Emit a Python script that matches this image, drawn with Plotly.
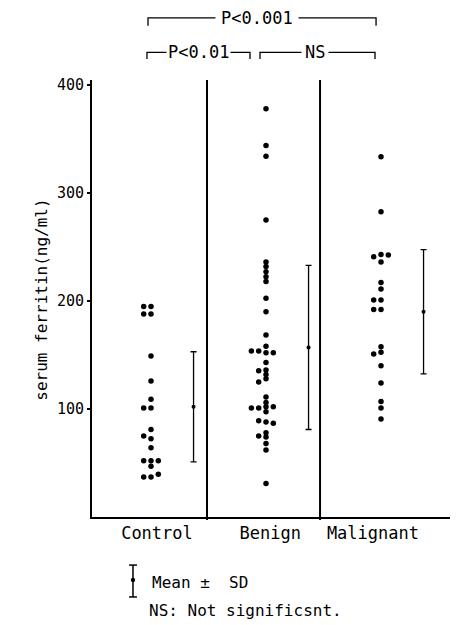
import plotly.graph_objects as go

# ---- data ----
groups = ["Control", "Benign", "Malignant"]
control = [195, 195, 188, 188, 149, 126, 109, 101, 101, 81, 72.5, 75, 64,
           52, 52, 52, 47, 37, 37, 39.5]
benign = [378, 344, 334, 275, 236, 232, 227, 222.5, 218, 202.5, 190, 168.5, 158,
          152, 153.7, 152, 153.7, 143, 136, 135.5, 132, 128, 125, 111, 106,
          102, 101, 102, 101, 97.5, 88, 89, 86.7, 78, 74, 75, 68, 62, 31]
malignant = [333.6, 282.7, 243, 241, 242.6, 236, 217, 211, 201, 201, 192, 192,
             157.7, 152.5, 151, 140, 124, 107, 101, 90.7]
means = [102, 157, 190]
sds = [51, 76, 57.5]
yticks = [100, 200, 300, 400]
comparisons = [("P<0.001", 0, 2, "upper"), ("P<0.01", 0, 1, "lower"), ("NS", 1, 2, "lower")]

FONT = "DejaVu Sans Mono"
COL_STEP = 0.0635           # horizontal spacing of stacked dots (x units)
PX_PER_UNIT_Y = 1.08        # px per ng/ml, used for collision in beeswarm
COLLIDE_PX = 4.0
TRY = [0, -1, 1, -2, 2, -3, 3]


def swarm(values):
    placed = []
    xs = []
    for v in values:
        for c in TRY:
            ok = all(not (pc == c and abs(pv - v) * PX_PER_UNIT_Y < COLLIDE_PX)
                     for pv, pc in placed)
            if ok:
                placed.append((v, c))
                xs.append(c * COL_STEP)
                break
    return xs


fig = go.Figure()
for gi, vals in enumerate([control, benign, malignant]):
    offs = swarm(vals)
    fig.add_trace(go.Scatter(
        x=[gi + o for o in offs], y=vals, mode="markers",
        marker=dict(size=5.5, color="black"), showlegend=False, hoverinfo="y"))

fig.add_trace(go.Scatter(
    x=[i + 0.37 for i in range(len(groups))], y=means, mode="markers",
    marker=dict(size=4, color="black"),
    error_y=dict(type="data", array=sds, symmetric=True, color="black",
                 thickness=1.3, width=3),
    showlegend=False))

shapes = []
# divider lines between groups
for d in [0.487, 1.47]:
    shapes.append(dict(type="line", xref="x", yref="paper", x0=d, x1=d, y0=-0.007, y1=1,
                       line=dict(color="black", width=2)))

# significance brackets
levels = {"upper": (1.142, 1.124), "lower": (1.063, 1.048)}
ends = {(0, 2): (-0.026, 1.957), (0, 1): (-0.035, 0.861), (1, 2): (0.948, 1.948)}
annotations = []
for label, a, b, lvl in comparisons:
    ytop, ybot = levels[lvl]
    x0, x1 = ends[(a, b)]
    shapes.append(dict(type="path", xref="x", yref="paper",
                       path=f"M {x0},{ybot} L {x0},{ytop} L {x1},{ytop} L {x1},{ybot}",
                       line=dict(color="black", width=1.3)))
    cx = {"P<0.001": 0.922, "P<0.01": 0.409, "NS": 1.422}[label]
    pad = {"P<0.001": 5, "P<0.01": 1, "NS": 3}[label]
    annotations.append(dict(x=cx, y=ytop, xref="x", yref="paper", text=label,
                            showarrow=False, bgcolor="white", borderpad=pad,
                            xanchor="center", yanchor="middle",
                            font=dict(family=FONT, size=17, color="black")))

# legend glyph (mean ± SD)
lx, ltop, lbot, lmid, cap = 0.1145, -0.110, -0.183, -0.144, 0.011
shapes += [
    dict(type="line", xref="paper", yref="paper", x0=lx, x1=lx, y0=lbot, y1=ltop,
         line=dict(color="black", width=1.5)),
    dict(type="line", xref="paper", yref="paper", x0=lx - cap, x1=lx + cap, y0=ltop, y1=ltop,
         line=dict(color="black", width=1.5)),
    dict(type="line", xref="paper", yref="paper", x0=lx - cap, x1=lx + cap, y0=lbot, y1=lbot,
         line=dict(color="black", width=1.5)),
    dict(type="circle", xref="paper", yref="paper", x0=lx - 0.006, x1=lx + 0.006,
         y0=lmid - 0.005, y1=lmid + 0.005, fillcolor="black", line=dict(color="black", width=0)),
]
annotations += [
    dict(x=0.162, y=-0.149, xref="paper", yref="paper", text="Mean ±  SD",
         showarrow=False, xanchor="left", yanchor="middle",
         font=dict(family=FONT, size=16, color="black")),
    dict(x=0.154, y=-0.213, xref="paper", yref="paper", text="NS: Not significsnt.",
         showarrow=False, xanchor="left", yanchor="middle",
         font=dict(family=FONT, size=16, color="black")),
    # y-axis title
    dict(x=-0.140, y=0.497, xref="paper", yref="paper", text="serum ferritin(ng/ml)",
         textangle=-90, showarrow=False, xanchor="center", yanchor="middle",
         font=dict(family=FONT, size=16, color="black")),
]

# the page body has an 8px margin, so the figure is sized/offset to compensate
fig.update_layout(
    width=450, height=617,
    margin=dict(l=84, r=8, t=72, b=108),
    plot_bgcolor="white", paper_bgcolor="white",
    shapes=shapes, annotations=annotations,
    xaxis=dict(range=[-0.513, 2.6], showgrid=False, zeroline=False,
               showline=True, linecolor="black", linewidth=2,
               tickvals=[0.052, 1.037, 1.93], ticktext=groups, ticks="",
               tickfont=dict(family=FONT, size=17, color="black")),
    yaxis=dict(range=[0, 404.6], showgrid=False, zeroline=False,
               showline=True, linecolor="black", linewidth=2,
               tickvals=yticks, ticks="outside", ticklen=3, tickwidth=1.5, tickcolor="black",
               tickfont=dict(family=FONT, size=15, color="black")),
)

fig.write_html("out.html")
